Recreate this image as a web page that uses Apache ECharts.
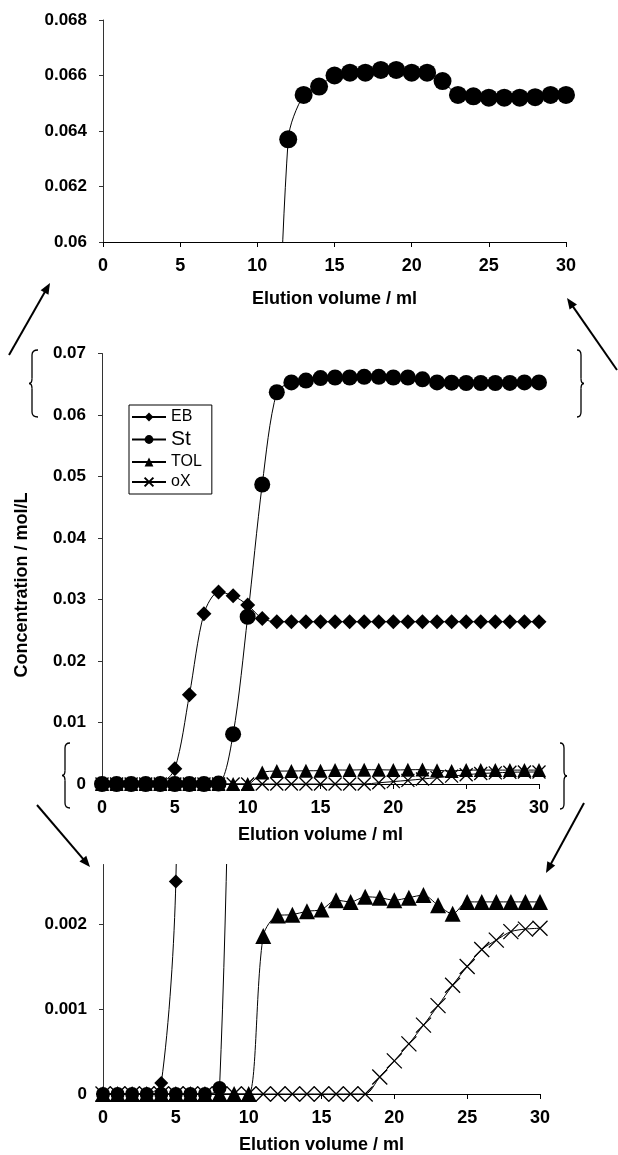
<!DOCTYPE html>
<html>
<head>
<meta charset="utf-8">
<script src="https://cdn.jsdelivr.net/npm/echarts@6/dist/echarts.min.js"></script>
<style>
html,body{margin:0;padding:0;background:#fff;}
#c{width:618px;height:1155px;}
</style>
</head>
<body>
<div id="c"></div>
<script>
// Elution volume (ml)
const elutionVolume = [0,1,2,3,4,5,6,7,8,9,10,11,12,13,14,15,16,17,18,19,20,21,22,23,24,25,26,27,28,29,30];
// Concentrations (mol/L)
const ebConc  = [0,0,0,0,0.00013,0.0025,0.0145,0.0277,0.0312,0.0306,0.0291,0.0269,0.0264,0.0264,0.0264,0.0264,0.0264,0.0264,0.0264,0.0264,0.0264,0.0264,0.0264,0.0264,0.0264,0.0264,0.0264,0.0264,0.0264,0.0264,0.0264];
const stConc  = [0,0,0,0,0,0,0,0,0.00007,0.0081,0.0272,0.0487,0.0637,0.0653,0.0656,0.0660,0.0661,0.0661,0.0662,0.0662,0.0661,0.0661,0.0658,0.0653,0.06525,0.0652,0.0652,0.0652,0.06522,0.0653,0.0653];
const tolConc = [0,0,0,0,0,0,0,0,0,0,0,0.00186,0.0021,0.00211,0.00215,0.00217,0.00228,0.00226,0.00232,0.00231,0.00228,0.00231,0.00234,0.00222,0.00212,0.00226,0.00226,0.00226,0.00226,0.00226,0.00226];
const oxConc  = [0,0,0,0,0,0,0,0,0,0,0,0,0,0,0,0,0,0,0,0.0002,0.00039,0.00059,0.00081,0.00104,0.00128,0.0015,0.0017,0.00181,0.00191,0.00194,0.00195];
const seriesNames = ['EB','St','TOL','oX'];
const xTitle = 'Elution volume / ml';
const yTitle = 'Concentration / mol/L';

const FONT = '"Liberation Sans", Arial, sans-serif';
const pairs = arr => elutionVolume.map((x,i)=>[x, arr[i]]);
const crossPath = 'path://M0,0L10,10M10,0L0,10';

const symbolDefs = {
  EB:  {symbol:'diamond', fill:'#000'},
  St:  {symbol:'circle', fill:'#000'},
  TOL: {symbol:'triangle', fill:'#000'},
  oX:  {symbol:crossPath, fill:'rgba(0,0,0,0)'}
};
const dataMap = {EB:ebConc, St:stConc, TOL:tolConc, oX:oxConc};

function mkSeries(name, gi, size){
  const d = symbolDefs[name];
  return {
    name, type:'line', xAxisIndex:gi, yAxisIndex:gi,
    data: pairs(dataMap[name]),
    smooth: 0.3,
    symbol: d.symbol, symbolSize: size, symbolKeepAspect:true,
    showAllSymbol:true,
    lineStyle:{color:'#000', width:1},
    itemStyle:{color:d.fill, borderColor:'#000', borderWidth: name==='oX'?1.3:0},
    emphasis:{disabled:true},
    clip:true,
    z: 2
  };
}

function xAx(gi, gap){
  return {
    type:'value', gridIndex:gi, min:0, max:30, interval:5,
    axisLine:{show:true, onZero:false, lineStyle:{color:'#000', width:1}},
    axisTick:{show:true, length:5, lineStyle:{color:'#000'}},
    axisLabel:{fontSize:18, fontWeight:'bold', color:'#000', margin:15, fontFamily:FONT},
    splitLine:{show:false},
    name:xTitle, nameLocation:'middle', nameGap:gap,
    nameTextStyle:{fontSize:18, fontWeight:'bold', color:'#000', fontFamily:FONT}
  };
}
function yAx(gi, min, max, interval, showMax){
  return {
    type:'value', gridIndex:gi, min, max, interval,
    axisLine:{show:true, lineStyle:{color:'#333', width:1}},
    axisTick:{show:true, length:4, lineStyle:{color:'#333'}},
    axisLabel:{fontSize:17, fontWeight:'bold', color:'#000', margin:16, fontFamily:FONT, showMaxLabel:showMax},
    splitLine:{show:false}
  };
}

function arrow(x1,y1,x2,y2){
  const dx=x2-x1, dy=y2-y1, L=Math.sqrt(dx*dx+dy*dy), ux=dx/L, uy=dy/L;
  const hl=11, hw=4.5;
  const bx=x2-ux*hl, by=y2-uy*hl;
  return [
    {type:'line', shape:{x1,y1,x2:bx+ux*2,y2:by+uy*2}, style:{stroke:'#000', lineWidth:2}},
    {type:'polygon', shape:{points:[[x2,y2],[bx-uy*hw,by+ux*hw],[bx+uy*hw,by-ux*hw]]}, style:{fill:'#000'}}
  ];
}
function brace(xe, xb, xt, y0, y1){
  const ym=(y0+y1)/2, r=5;
  const st = {stroke:'#000', lineWidth:1.3, fill:null};
  return [
    {type:'bezierCurve', shape:{x1:xe,y1:y0,x2:xb,y2:y0+r,cpx1:xb,cpy1:y0}, style:st},
    {type:'line', shape:{x1:xb,y1:y0+r,x2:xb,y2:ym-r}, style:st},
    {type:'bezierCurve', shape:{x1:xb,y1:ym-r,x2:xt,y2:ym,cpx1:xb,cpy1:ym}, style:st},
    {type:'bezierCurve', shape:{x1:xt,y1:ym,x2:xb,y2:ym+r,cpx1:xb,cpy1:ym}, style:st},
    {type:'line', shape:{x1:xb,y1:ym+r,x2:xb,y2:y1-r}, style:st},
    {type:'bezierCurve', shape:{x1:xb,y1:y1-r,x2:xe,y2:y1,cpx1:xb,cpy1:y1}, style:st}
  ];
}

const graphics = [].concat(
  arrow(9,355,50,283),
  arrow(617,370,567,298),
  arrow(37,805,90,867),
  arrow(584,803,546,873),
  brace(38,32,29,350,417), brace(577,581,584,350,417), brace(70,65,62,743,808), brace(560,564,567,743,809),
  [{type:'text', x:22, y:585, rotation:Math.PI/2,
    style:{text:yTitle, font:'bold 18px '+FONT, fill:'#000', align:'center', verticalAlign:'middle'}}]
);

const series = [];
series.push(mkSeries('EB',1,15), mkSeries('St',1,16), mkSeries('TOL',1,14), mkSeries('oX',1,13));
series.push(mkSeries('St', 0, 18));
series.push(mkSeries('EB',2,14), mkSeries('St',2,14), mkSeries('TOL',2,16), mkSeries('oX',2,15));

const option = {
  animation:false,
  backgroundColor:'#fff',
  textStyle:{fontFamily:FONT},
  grid:[
    {left:103, top:20, width:463, height:222},
    {left:102, top:353.5, width:437, height:430.5},
    {left:103, top:864.5, width:437, height:231.5}
  ],
  xAxis:[xAx(0,48), xAx(1,42), xAx(2,42)],
  yAxis:[yAx(0,0.06,0.068,0.002,true), yAx(1,0,0.07,0.01,true), yAx(2,0,0.0027,0.001,false)],
  legend:{
    left:129, top:405, orient:'vertical',
    borderColor:'#000', borderWidth:1, padding:[4,10,4,2],
    itemWidth:34, itemHeight:11, itemGap:4,
    selectedMode:false,
    textStyle:{fontSize:16, color:'#000', fontFamily:FONT},
    data:[
      {name:'EB'},
      {name:'St', textStyle:{fontSize:21}},
      {name:'TOL'},
      {name:'oX'}
    ]
  },
  series: series,
  graphic: graphics
};
const chart = echarts.init(document.getElementById('c'), null, {renderer:'canvas'});
chart.setOption(option);
</script>
</body>
</html>
